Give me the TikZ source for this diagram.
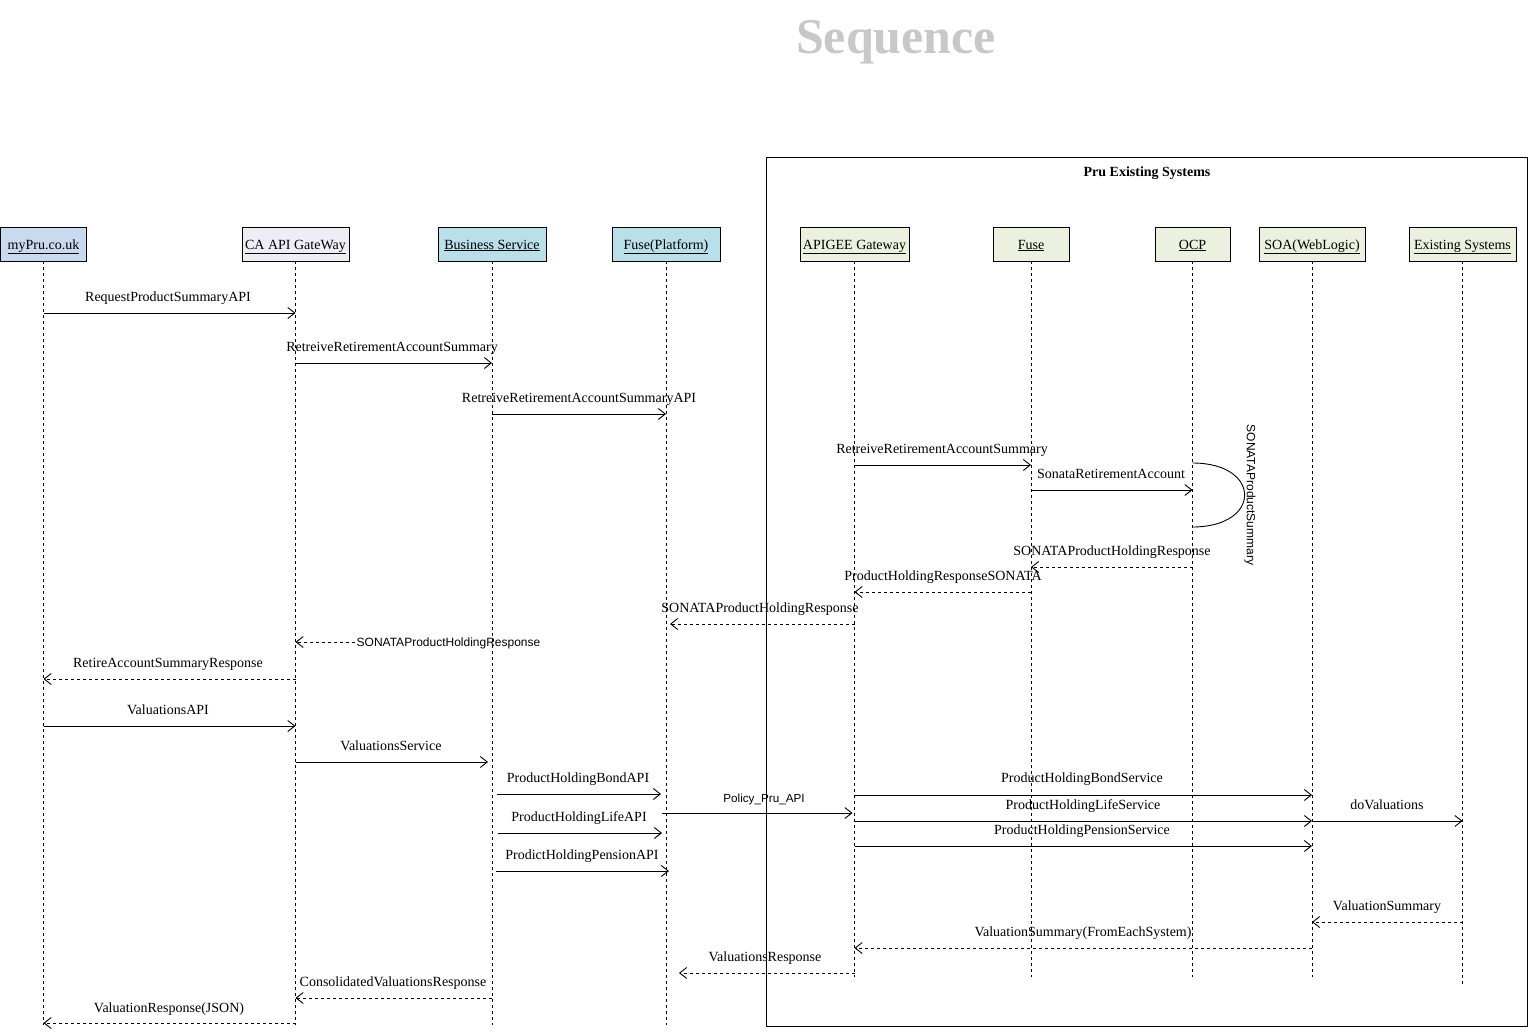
\documentclass[tikz,border=0pt]{standalone}
\usepackage{fontspec}
\setmainfont{Liberation Serif}
\setsansfont{Liberation Sans}
\usetikzlibrary{arrows.meta}
\definecolor{cblue}{HTML}{C9D9F0}
\definecolor{clav}{HTML}{EEEDF5}
\definecolor{ccyan}{HTML}{B9DFE8}
\definecolor{cgreen}{HTML}{EBF0DF}
\definecolor{ctitle}{HTML}{C8C8C8}
\tikzset{
  actor/.style={draw=black, line width=0.8pt, minimum height=34pt, inner sep=0pt,
    text height=10pt, text depth=0pt, font=\fontsize{14}{16}\selectfont},
  lifeline/.style={draw=black, line width=0.8pt, dash pattern=on 3pt off 3pt},
  call/.style={draw=black, line width=0.9pt, -{Straight Barb[length=7pt,width=11pt]}},
  ret/.style={draw=black, line width=0.9pt, dash pattern=on 3pt off 3pt, -{Straight Barb[length=7pt,width=11pt]}},
  lbl/.style={inner sep=0pt, text height=10pt, text depth=0pt, font=\fontsize{14}{16}\selectfont},
  slbl/.style={inner sep=0pt, text height=9pt, text depth=0pt, font=\sffamily\fontsize{12}{14}\selectfont},
}
\begin{document}
\begin{tikzpicture}[x=1pt,y=-1pt]
\useasboundingbox (0,0) rectangle (1529,1034);
% title
\node[font=\bfseries\fontsize{50}{56}\selectfont, text=ctitle, inner sep=0pt] (title) at (896,42) {Sequence};
% container
\draw[line width=1pt] (766,157) rectangle (1527,1026);
\node[font=\bfseries\fontsize{14}{16}\selectfont, inner sep=0pt, text height=10pt, text depth=0pt] (ctitle) at (1147,171) {Pru Existing Systems};
% actors
\node[actor, fill=cblue, minimum width=86pt] (mypru) at (43.5,244) {\underline{myPru.co.uk}};
\node[actor, fill=clav, minimum width=107pt] (caapi) at (295.5,244) {\underline{CA API GateWay}};
\node[actor, fill=ccyan, minimum width=108pt] (bsvc) at (492,244) {\underline{Business Service}};
\node[actor, fill=ccyan, minimum width=108pt] (fplat) at (666,244) {\underline{Fuse(Platform)}};
\node[actor, fill=cgreen, minimum width=109pt] (apigee) at (854.5,244) {\underline{APIGEE Gateway}};
\node[actor, fill=cgreen, minimum width=76pt] (fuse) at (1031,244) {\underline{Fuse}};
\node[actor, fill=cgreen, minimum width=75pt] (ocp) at (1192.5,244) {\underline{OCP}};
\node[actor, fill=cgreen, minimum width=106pt] (soa) at (1312,244) {\underline{SOA(WebLogic)}};
\node[actor, fill=cgreen, minimum width=107pt] (exist) at (1462.5,244) {\underline{Existing Systems}};
% lifelines
\draw[lifeline] (mypru.south) -- (mypru.south |- 0,1025);
\draw[lifeline] (caapi.south) -- (caapi.south |- 0,1025);
\draw[lifeline] (bsvc.south) -- (bsvc.south |- 0,1025);
\draw[lifeline] (fplat.south) -- (fplat.south |- 0,1025);
\draw[lifeline] (apigee.south) -- (apigee.south |- 0,977);
\draw[lifeline] (fuse.south) -- (fuse.south |- 0,977);
\draw[lifeline] (ocp.south) -- (ocp.south |- 0,977);
\draw[lifeline] (soa.south) -- (soa.south |- 0,977);
\draw[lifeline] (exist.south) -- (exist.south |- 0,985);
% messages
\draw[call] (mypru |- 0,313) -- (caapi |- 0,313);
\node[lbl] (l1) at (168,296) {RequestProductSummaryAPI};
\draw[call] (caapi |- 0,363) -- (bsvc |- 0,363);
\node[lbl] (l2) at (392,346) {RetreiveRetirementAccountSummary};
\draw[call] (bsvc |- 0,414) -- (fplat |- 0,414);
\node[lbl] (l3) at (579,397) {RetreiveRetirementAccountSummaryAPI};
\draw[call] (apigee |- 0,465) -- (fuse |- 0,465);
\node[lbl] (l4) at (942,448) {RetreiveRetirementAccountSummary};
\draw[call] (fuse |- 0,490) -- (ocp |- 0,490);
\node[lbl] (l5) at (1111,473) {SonataRetirementAccount};
\draw[line width=0.9pt] (ocp |- 0,463) .. controls (1262,463) and (1262,527) .. (ocp |- 0,527);
\node[inner sep=0pt, font=\sffamily\fontsize{12}{14}\selectfont, rotate=-90] (l6) at (1250,495) {SONATAProductSummary};
\draw[ret] (ocp |- 0,567) -- (fuse |- 0,567);
\node[lbl] (l7) at (1112,550) {SONATAProductHoldingResponse};
\draw[ret] (fuse |- 0,592) -- (apigee |- 0,592);
\node[lbl] (l8) at (943,575) {ProductHoldingResponseSONATA};
\draw[ret] (apigee |- 0,624) -- ([xshift=4pt]fplat |- 0,624);
\node[lbl] (l9) at (760,607) {SONATAProductHoldingResponse};
\node[slbl] (l10) at (448.5,642) {SONATAProductHoldingResponse};
\draw[ret] ([xshift=-1pt]l10.west) -- (caapi |- 0,642);
\draw[ret] (caapi |- 0,679) -- (mypru |- 0,679);
\node[lbl] (l11) at (168,662) {RetireAccountSummaryResponse};
\draw[call] (mypru |- 0,726) -- (caapi |- 0,726);
\node[lbl] (l12) at (168,709) {ValuationsAPI};
\draw[call] (caapi |- 0,762) -- ([xshift=-4pt]bsvc |- 0,762);
\node[lbl] (l13) at (391,745) {ValuationsService};
\draw[call] ([xshift=5pt]bsvc |- 0,794) -- ([xshift=-5pt]fplat |- 0,794);
\node[lbl] (l14) at (578,777) {ProductHoldingBondAPI};
\draw[call] ([xshift=6pt]bsvc |- 0,833) -- ([xshift=-4pt]fplat |- 0,833);
\node[lbl] (l15) at (579,816) {ProductHoldingLifeAPI};
\draw[call] ([xshift=4pt]bsvc |- 0,871) -- ([xshift=3pt]fplat |- 0,871);
\node[lbl] (l16) at (582,854) {ProdictHoldingPensionAPI};
\draw[call] ([xshift=-4pt]fplat |- 0,813) -- ([xshift=-2pt]apigee |- 0,813);
\node[slbl, font=\sffamily\fontsize{11.7}{14}\selectfont] (l17) at (764,798) {Policy\_Pru\_API};
\draw[call] (apigee |- 0,795) -- (soa |- 0,795);
\node[lbl] (l18) at (1082,777) {ProductHoldingBondService};
\draw[call] (apigee |- 0,821) -- (soa |- 0,821);
\node[lbl] (l19) at (1083,804) {ProductHoldingLifeService};
\draw[call] (soa |- 0,821) -- (exist |- 0,821);
\node[lbl] (l20) at (1387,804) {doValuations};
\draw[call] (apigee |- 0,846) -- (soa |- 0,846);
\node[lbl] (l21) at (1082,829) {ProductHoldingPensionService};
\draw[ret] (exist |- 0,922) -- (soa |- 0,922);
\node[lbl] (l22) at (1387,905) {ValuationSummary};
\draw[ret] (soa |- 0,948) -- (apigee |- 0,948);
\node[lbl] (l23) at (1083,931) {ValuationSummary(FromEachSystem)};
\draw[ret] (apigee |- 0,973) -- ([xshift=13pt]fplat |- 0,973);
\node[lbl] (l24) at (765,956) {ValuationsResponse};
\draw[ret] (bsvc |- 0,998) -- (caapi |- 0,998);
\node[lbl] (l25) at (393,981) {ConsolidatedValuationsResponse};
\draw[ret] (caapi |- 0,1023) -- (mypru |- 0,1023);
\node[lbl] (l26) at (169,1007) {ValuationResponse(JSON)};
\end{tikzpicture}
\end{document}
